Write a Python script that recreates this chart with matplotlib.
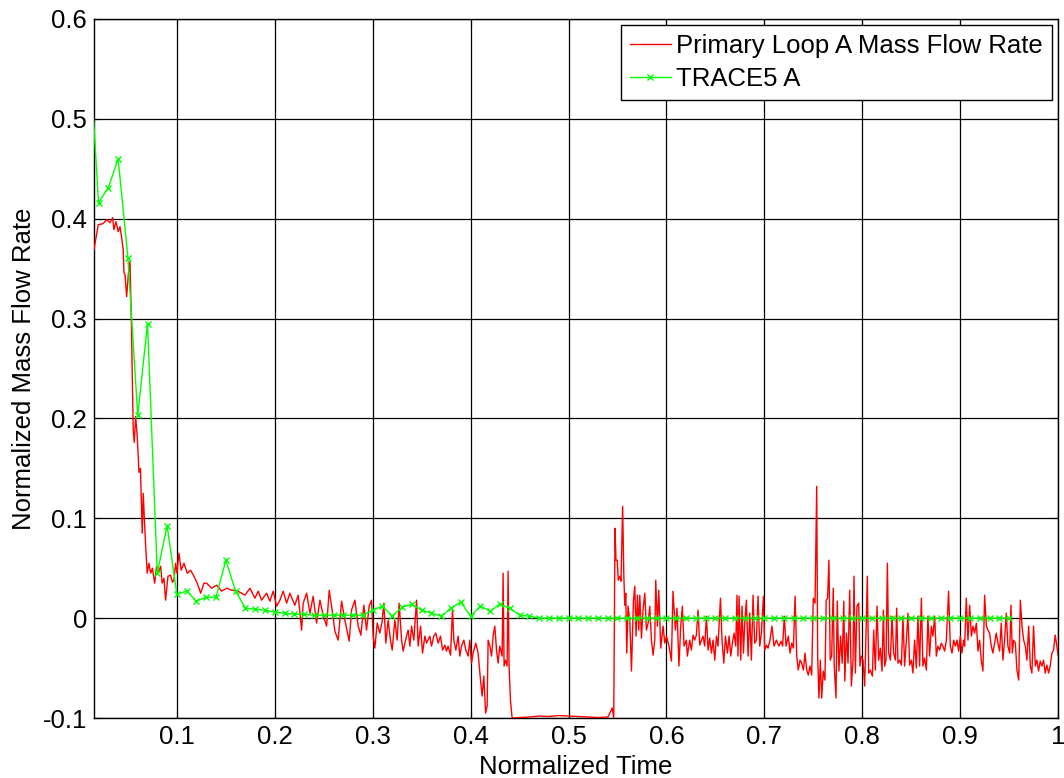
import matplotlib
matplotlib.use("Agg")
import matplotlib.pyplot as plt
from matplotlib.ticker import FuncFormatter

plt.rcParams['font.family'] = ['Liberation Sans', 'DejaVu Sans']

# ---------------- data ----------------
red_t = [
    0.0153, 0.0197, 0.0245, 0.0283, 0.0317, 0.0344, 0.0357, 0.0378, 0.0401, 0.0419,
    0.0436, 0.0452, 0.0459, 0.0470, 0.0487, 0.0493, 0.0505, 0.0521, 0.0534, 0.0554,
    0.0565, 0.0579, 0.0595, 0.0613, 0.0628, 0.0646, 0.0656, 0.0681, 0.0697, 0.0715,
    0.0732, 0.0750, 0.0773, 0.0793, 0.0812, 0.0834, 0.0850, 0.0868, 0.0885, 0.0909,
    0.0936, 0.0955, 0.0970, 0.0987, 0.1001, 0.1021, 0.1044, 0.1072, 0.1106, 0.1140,
    0.1174, 0.1208, 0.1243, 0.1276,
    0.1304, 0.1355, 0.1406, 0.1457, 0.1508, 0.1559, 0.1626, 0.1695, 0.1746, 0.1797,
    0.1831, 0.1865, 0.1916, 0.1950, 0.1984, 0.2019, 0.2052, 0.2086, 0.2121, 0.2154,
    0.2205, 0.2239, 0.2274, 0.2290, 0.2325, 0.2359, 0.2392, 0.2427, 0.2461, 0.2494,
    0.2529, 0.2556, 0.2586, 0.2614, 0.2647, 0.2682, 0.2716, 0.2760, 0.2784, 0.2818,
    0.2852, 0.2879,
    0.2910, 0.2937, 0.2964, 0.2988, 0.3005, 0.3022, 0.3046, 0.3073, 0.3094, 0.3114,
    0.3134, 0.3158, 0.3182, 0.3199, 0.3226, 0.3250, 0.3270, 0.3295, 0.3311, 0.3336,
    0.3362, 0.3380, 0.3397, 0.3420, 0.3448, 0.3464, 0.3489, 0.3509, 0.3533, 0.3550,
    0.3583, 0.3601, 0.3624, 0.3645, 0.3668, 0.3693, 0.3713, 0.3737, 0.3754, 0.3770,
    0.3795, 0.3815, 0.3829, 0.3849, 0.3873, 0.3890, 0.3907, 0.3931, 0.3951, 0.3975,
    0.3992, 0.4009, 0.4026, 0.4053, 0.4077, 0.4101, 0.4118, 0.4135, 0.4153, 0.4169,
    0.4179, 0.4197, 0.4214, 0.4230, 0.4247, 0.4265, 0.4281, 0.4298, 0.4322, 0.4332,
    0.4342, 0.4356, 0.4373, 0.4383, 0.4393, 0.4407, 0.4424,
    0.4450, 0.4500, 0.4600, 0.4700, 0.4800, 0.4900, 0.5000, 0.5100, 0.5200, 0.5300,
    0.5403, 0.5447, 0.5462,
    0.5475, 0.5485, 0.5498, 0.5508, 0.5526, 0.5536, 0.5553, 0.5565, 0.5575, 0.5585,
    0.5595, 0.5608, 0.5626, 0.5643, 0.5663, 0.5677, 0.5690, 0.5704, 0.5718, 0.5728,
    0.5745, 0.5761, 0.5779, 0.5796, 0.5813, 0.5830, 0.5847, 0.5864, 0.5881, 0.5891,
    0.5908, 0.5922, 0.5942, 0.5966, 0.5983, 0.6000, 0.6027, 0.6051, 0.6067, 0.6092,
    0.6108, 0.6128, 0.6146, 0.6163, 0.6180, 0.6204, 0.6214, 0.6238, 0.6255, 0.6272,
    0.6289, 0.6306, 0.6323, 0.6340, 0.6358, 0.6374, 0.6391, 0.6409, 0.6425, 0.6442,
    0.6460, 0.6476, 0.6494, 0.6511, 0.6527, 0.6552, 0.6568, 0.6586, 0.6603, 0.6623,
    0.6640, 0.6657, 0.6674, 0.6691, 0.6708, 0.6721, 0.6731, 0.6742, 0.6759, 0.6772,
    0.6787, 0.6800, 0.6817, 0.6834, 0.6851, 0.6868, 0.6885, 0.6902, 0.6919, 0.6936,
    0.6953, 0.6970, 0.6991, 0.7004, 0.7022, 0.7038, 0.7058, 0.7078, 0.7099, 0.7123,
    0.7150, 0.7170, 0.7187, 0.7204, 0.7222, 0.7245, 0.7263, 0.7280, 0.7297, 0.7314,
    0.7331, 0.7347, 0.7365, 0.7382, 0.7399, 0.7416, 0.7433, 0.7449,
    0.7467, 0.7484, 0.7500, 0.7518, 0.7535, 0.7545, 0.7558, 0.7572, 0.7586, 0.7602,
    0.7619, 0.7632, 0.7646, 0.7660, 0.7673, 0.7688, 0.7704, 0.7714, 0.7732, 0.7745,
    0.7762, 0.7779, 0.7795, 0.7812, 0.7822, 0.7839, 0.7855, 0.7872, 0.7889, 0.7906,
    0.7916, 0.7930, 0.7946, 0.7964, 0.7977, 0.7991, 0.8008, 0.8025, 0.8042, 0.8052,
    0.8066, 0.8083, 0.8104, 0.8117, 0.8134, 0.8151, 0.8168, 0.8185, 0.8202, 0.8216,
    0.8229, 0.8243, 0.8257, 0.8270, 0.8288, 0.8304, 0.8321, 0.8339, 0.8352, 0.8365,
    0.8383, 0.8400, 0.8416, 0.8433, 0.8451, 0.8467, 0.8484, 0.8502, 0.8518, 0.8535,
    0.8553, 0.8569, 0.8586, 0.8604, 0.8620, 0.8637, 0.8655, 0.8671, 0.8688, 0.8706,
    0.8722, 0.8740, 0.8757, 0.8773, 0.8791, 0.8808, 0.8824, 0.8842, 0.8859, 0.8882,
    0.8900, 0.8917, 0.8934, 0.8951, 0.8968, 0.8985, 0.9002, 0.9018, 0.9036, 0.9046,
    0.9063, 0.9080, 0.9097, 0.9115, 0.9131, 0.9148, 0.9166, 0.9182, 0.9199, 0.9216,
    0.9233, 0.9250, 0.9268, 0.9284, 0.9301, 0.9318, 0.9335, 0.9352, 0.9369, 0.9386,
    0.9403, 0.9420, 0.9437, 0.9454, 0.9471, 0.9488, 0.9506, 0.9519, 0.9533, 0.9546,
    0.9564, 0.9580, 0.9598, 0.9615, 0.9632, 0.9649, 0.9666, 0.9682, 0.9700, 0.9717,
    0.9733, 0.9750, 0.9768, 0.9784, 0.9801, 0.9818, 0.9835, 0.9852, 0.9869, 0.9886,
    0.9903, 0.9920, 0.9937, 0.9954, 0.9971, 0.9988, 1.0000,
]
red_flow = [
    0.369, 0.394, 0.395, 0.399, 0.396, 0.401, 0.389, 0.397, 0.387, 0.392,
    0.381, 0.369, 0.346, 0.344, 0.322, 0.330, 0.345, 0.357, 0.302, 0.189,
    0.176, 0.202, 0.182, 0.146, 0.150, 0.085, 0.125, 0.072, 0.045, 0.055,
    0.045, 0.050, 0.035, 0.052, 0.045, 0.052, 0.035, 0.040, 0.018, 0.042,
    0.043, 0.036, 0.038, 0.055, 0.045, 0.065, 0.048, 0.055, 0.045, 0.048,
    0.042, 0.035, 0.025, 0.035,
    0.035, 0.030, 0.033, 0.027, 0.030, 0.028, 0.027, 0.023, 0.030, 0.020,
    0.027, 0.018, 0.025, 0.017, 0.027, 0.012, 0.018, 0.027, 0.015, 0.025,
    0.013, 0.023, -0.012, 0.015, 0.025, 0.005, 0.022, -0.005, 0.018, 0.003,
    -0.008, 0.028, 0.008, -0.013, -0.022, 0.017, -0.002, -0.023, 0.008, 0.018,
    -0.008, -0.017,
    0.013, -0.012, 0.012, 0.018, -0.018, -0.030, -0.005, -0.015, -0.005, 0.015,
    -0.025, -0.002, -0.022, -0.032, -0.002, -0.022, 0.015, -0.022, -0.033, -0.022,
    -0.012, -0.028, -0.008, -0.022, 0.018, -0.028, -0.008, -0.035, -0.018, -0.025,
    -0.018, -0.028, -0.018, -0.015, -0.025, -0.018, -0.032, -0.027, -0.033, -0.028,
    -0.037, 0.008, -0.022, -0.032, -0.018, -0.038, -0.028, -0.022, -0.032, -0.038,
    -0.022, -0.045, -0.035, -0.025, -0.035, -0.062, -0.078, -0.058, -0.095, -0.088,
    -0.022, -0.028, -0.038, -0.018, -0.008, -0.032, -0.045, -0.028, -0.038, 0.045,
    -0.048, -0.042, -0.048, 0.047, -0.048, -0.082, -0.100,
    -0.100, -0.0995, -0.099, -0.098, -0.0985, -0.0975, -0.098, -0.0985, -0.099, -0.0995,
    -0.099, -0.090, -0.100,
    0.090, 0.058, 0.058, 0.038, 0.042, 0.037, 0.112, 0.042, 0.013, 0.025,
    -0.035, 0.012, -0.002, -0.053, 0.017, 0.032, -0.018, 0.023, -0.012, 0.023,
    -0.020, 0.008, 0.025, -0.012, -0.005, 0.012, -0.022, -0.037, -0.022, 0.038,
    -0.008, 0.028, -0.030, -0.008, -0.025, -0.018, -0.028, -0.043, 0.027, -0.012,
    0.010, -0.048, -0.008, 0.012, -0.028, -0.022, -0.038, -0.022, -0.032, -0.017,
    -0.022, -0.017, 0.008, -0.027, -0.022, -0.018, -0.028, 0.002, -0.032, -0.020,
    -0.035, -0.022, -0.042, -0.018, -0.028, 0.020, -0.022, -0.045, -0.018, -0.035,
    -0.018, -0.038, -0.025, -0.015, -0.028, 0.023, -0.038, 0.022, -0.042, 0.012,
    -0.035, -0.005, 0.018, -0.038, 0.005, -0.042, 0.023, -0.025, -0.022, 0.022,
    -0.028, -0.015, 0.022, -0.032, -0.027, -0.030, -0.022, -0.008, -0.028, -0.022,
    -0.028, -0.023, -0.028, 0.002, -0.028, -0.018, -0.035, -0.025, -0.030, 0.022,
    -0.038, -0.052, -0.042, -0.045, -0.052, -0.035, -0.052, -0.057,
    -0.048, -0.057, 0.020, 0.015, 0.132, -0.038, -0.080, -0.042, -0.080, -0.053,
    -0.062, 0.018, 0.020, 0.058, -0.042, -0.038, 0.030, -0.047, -0.080, 0.017,
    -0.053, -0.018, -0.045, 0.017, -0.063, -0.015, -0.045, 0.028, -0.068, -0.042,
    0.042, -0.055, 0.012, 0.015, -0.048, -0.038, -0.042, -0.068, -0.002, 0.042,
    -0.055, -0.052, -0.058, -0.012, -0.052, 0.012, -0.042, -0.030, -0.053, 0.008,
    -0.048, -0.042, 0.055, -0.035, -0.042, 0.002, -0.035, -0.042, 0.010, -0.045,
    -0.042, -0.047, 0.002, -0.048, -0.022, 0.005, -0.047, -0.042, -0.055, -0.022,
    -0.050, 0.002, -0.048, 0.020, -0.048, -0.040, -0.052, 0.002, -0.038, -0.008,
    -0.018, 0.002, -0.038, -0.028, -0.032, -0.025, -0.028, -0.033, -0.022, 0.027,
    -0.028, -0.035, -0.022, -0.028, -0.022, -0.033, -0.018, -0.035, -0.022, -0.028,
    0.020, -0.022, 0.013, -0.018, -0.008, -0.015, -0.005, -0.033, -0.022, -0.042,
    -0.053, 0.023, -0.008, -0.012, -0.015, -0.028, -0.035, -0.025, -0.015, -0.025,
    -0.033, -0.005, -0.042, -0.022, 0.005, -0.028, -0.035, 0.013, -0.035, -0.022,
    -0.025, -0.052, -0.062, 0.018, -0.008, -0.022, -0.028, -0.042, -0.008, -0.048,
    -0.055, -0.008, -0.048, -0.042, -0.053, -0.043, -0.048, -0.042, -0.055, -0.047,
    -0.055, -0.048, -0.035, -0.032, -0.017, -0.028, -0.037,
]

green_t = [
    0.01, 0.02, 0.03, 0.04, 0.05, 0.06, 0.07, 0.08, 0.09, 0.10,
    0.11, 0.12, 0.13, 0.14, 0.15, 0.16, 0.17, 0.18, 0.19, 0.20,
    0.21, 0.22, 0.23, 0.24, 0.25, 0.26, 0.27, 0.28, 0.29, 0.30,
    0.31, 0.32, 0.33, 0.34, 0.35, 0.36, 0.37, 0.38, 0.39, 0.40,
    0.41, 0.42, 0.43, 0.44, 0.45, 0.46, 0.47, 0.48, 0.49, 0.50,
    0.51, 0.52, 0.53, 0.54, 0.55, 0.56, 0.57, 0.58, 0.59, 0.60,
    0.61, 0.62, 0.63, 0.64, 0.65, 0.66, 0.67, 0.68, 0.69, 0.70,
    0.71, 0.72, 0.73, 0.74, 0.75, 0.76, 0.77, 0.78, 0.79, 0.80,
    0.81, 0.82, 0.83, 0.84, 0.85, 0.86, 0.87, 0.88, 0.89, 0.90,
    0.91, 0.92, 0.93, 0.94, 0.95,
]
green_flow = [
    0.580, 0.416, 0.431, 0.460, 0.361, 0.203, 0.295, 0.045, 0.0925, 0.024,
    0.027, 0.017, 0.021, 0.021, 0.058, 0.027, 0.010, 0.009, 0.008, 0.006,
    0.005, 0.004, 0.004, 0.003, 0.003, 0.003, 0.003, 0.003, 0.003, 0.008,
    0.012, 0.002, 0.011, 0.014, 0.008, 0.005, 0.002, 0.010, 0.016, 0.002,
    0.012, 0.007, 0.014, 0.010, 0.003, 0.002, 0.0, 0.0, 0.0, 0.0,
    0.0, 0.0, 0.0, 0.0, 0.0, 0.0, 0.0, 0.0, 0.0, 0.0,
    0.0, 0.0, 0.0, 0.0, 0.0, 0.0, 0.0, 0.0, 0.0, 0.0,
    0.0, 0.0, 0.0, 0.0, 0.0, 0.0, 0.0, 0.0, 0.0, 0.0,
    0.0, 0.0, 0.0, 0.0, 0.0, 0.0, 0.0, 0.0, 0.0, 0.0,
    0.0, 0.0, 0.0, 0.0, 0.0,
]

x_ticks = [0.1, 0.2, 0.3, 0.4, 0.5, 0.6, 0.7, 0.8, 0.9, 1.0]
y_ticks = [-0.1, 0.0, 0.1, 0.2, 0.3, 0.4, 0.5, 0.6]
series_labels = ["Primary Loop A Mass Flow Rate", "TRACE5 A"]

# ---------------- figure ----------------
FS = 18.5
fig = plt.figure(figsize=(10.64, 7.78), dpi=100)
ax = fig.add_axes([0.0883, 0.0771, 0.9061, 0.8985])

ax.plot(red_t, red_flow, color='#ff0000', lw=1.0, label=series_labels[0], zorder=3)
ax.plot(green_t, green_flow, color='#00ff00', lw=1.0, marker='x', markersize=5,
        markeredgewidth=1.0, label=series_labels[1], zorder=4)

ax.set_xlim(0.0153, 1.0)
ax.set_ylim(-0.1, 0.6)
ax.set_xticks(x_ticks)
ax.set_yticks(y_ticks)
ax.xaxis.set_major_formatter(FuncFormatter(lambda v, p: ('%g' % round(v, 2))))
ax.yaxis.set_major_formatter(FuncFormatter(lambda v, p: ('%g' % round(v, 2))))

ax.grid(True, color='black', lw=0.9, ls='-')
ax.set_axisbelow(True)
ax.tick_params(direction='in', length=5, width=0.8, top=True, right=True,
               labelsize=FS, colors='black')
ax.tick_params(axis='x', pad=5)
ax.tick_params(axis='y', pad=5)
for s in ax.spines.values():
    s.set_linewidth(1.0)
    s.set_color('black')

ax.set_xlabel("Normalized Time", fontsize=FS, labelpad=4)
ax.set_ylabel("Normalized Mass Flow Rate", fontsize=FS, labelpad=5)

leg = ax.legend(loc='upper right', fontsize=FS, frameon=True, fancybox=False,
                edgecolor='black', framealpha=1, borderaxespad=0.25,
                handlelength=1.6, handletextpad=0.2, borderpad=0.35, labelspacing=0.35)
leg.get_frame().set_linewidth(1.0)

fig.savefig("out.png", dpi=100)
